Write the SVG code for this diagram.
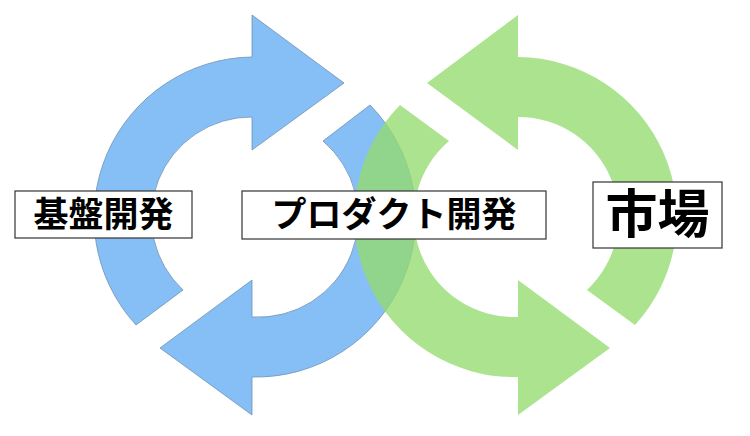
<svg xmlns="http://www.w3.org/2000/svg" width="750" height="436" viewBox="0 0 750 436">
<style>
.b{fill:#86BFF6;stroke:#6F90B3;stroke-width:0.8}
.g{fill:#95DB70;fill-opacity:0.78}
.box{fill:#fff;stroke:#333;stroke-width:1.2}
.t{font-family:"Noto Sans CJK JP",sans-serif;font-weight:bold;fill:#000;text-anchor:middle}
</style>
<g id="blue-arrows">
<path class="b" d="M136,325 A160 160 0 0 1 252,57 L252,15 L344,83 L252,150 L252,117 A100 100 0 0 0 183,290 Z"/>
<path class="b" d="M370,105 A160 160 0 0 1 252,377 L252,415 L160,348 L252,280 L252,317 A100 100 0 0 0 323,141 Z"/>
</g>
<g id="green-arrows">
<path class="g" d="M400,105 A160 160 0 0 0 518,377 L518,415 L610,348 L518,280 L518,317 A100 100 0 0 1 449,141 Z"/>
<path class="g" d="M635,325 A160 160 0 0 0 518,57 L518,15 L427,83 L518,150 L518,117 A100 100 0 0 1 587,290 Z"/>
</g>
<g id="label-kiban">
<rect class="box" x="15" y="191" width="177" height="47"/>
<text class="t" x="103.5" y="227" font-size="35">基盤開発</text>
</g>
<g id="label-product">
<rect class="box" x="242" y="191" width="304" height="48"/>
<text class="t" x="394" y="227" font-size="35">プロダクト開発</text>
</g>
<g id="label-market">
<rect class="box" x="593" y="182" width="129" height="66"/>
<text class="t" x="657.5" y="233" font-size="52">市場</text>
</g>
</svg>
